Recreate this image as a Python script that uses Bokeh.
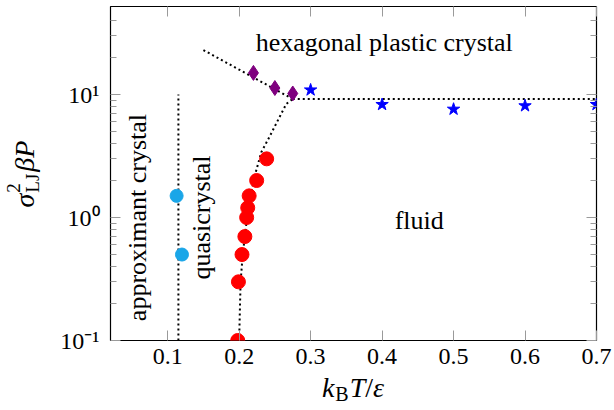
import math
from bokeh.plotting import figure
from bokeh.models import Range1d, FixedTicker, LinearAxis, LogAxis, Div
from bokeh.layouts import row, column
from bokeh.embed import file_html
from bokeh.resources import INLINE
from bokeh.core.properties import value

# ---------------- data ----------------
quasi_T = [0.198, 0.199, 0.204, 0.208, 0.2105, 0.212, 0.214, 0.2245, 0.2385]
quasi_P = [0.1, 0.3, 0.5, 0.7, 1.0, 1.2, 1.5, 2.0, 3.0]

approx_T = [0.1125, 0.120]
approx_P = [1.5, 0.5]

hex_T = [0.22, 0.25, 0.275]
hex_P = [15.0, 11.3, 10.2]

fluid_T = [0.3, 0.4, 0.5, 0.6, 0.7]
fluid_P = [10.9, 8.3, 7.6, 8.1, 8.3]

# dotted phase boundaries
qc_bound_T = [0.200, 0.202, 0.205, 0.208, 0.211, 0.216, 0.222, 0.231, 0.243, 0.255, 0.266, 0.275]
qc_bound_P = [0.1, 0.3, 0.5, 0.7, 1.0, 1.5, 2.2, 3.4, 4.6, 6.3, 8.4, 9.2]
hex_bound_T = [0.15, 0.275]
hex_bound_P = [23.0, 9.2]
melt_bound_T = [0.275, 0.7]
melt_bound_P = [9.2, 9.2]
approx_bound_T = [0.115, 0.115]
approx_bound_P = [0.1, 10.0]

x_ticks = [0.1, 0.2, 0.3, 0.4, 0.5, 0.6, 0.7]
x_tick_labels = ["0.1", "0.2", "0.3", "0.4", "0.5", "0.6", "0.7"]
y_ticks = [0.1, 1.0, 10.0]
y_tick_labels = ["10\u207b\u00b9", "10\u2070", "10\u00b9"]
y_minor = [0.2, 0.3, 0.4, 0.5, 0.6, 0.7, 0.8, 0.9,
           2, 3, 4, 5, 6, 7, 8, 9, 20, 30, 40]

region_labels = ["hexagonal plastic crystal", "fluid", "approximant crystal", "quasicrystal"]

X_MIN, X_MAX = 0.02, 0.7
Y_MIN, Y_MAX = 0.1, 52

FONT = "Liberation Serif"
TICK_COLOR = "#9a9a9a"

p = figure(frame_width=486, frame_height=334,
           x_range=Range1d(X_MIN, X_MAX), y_range=Range1d(Y_MIN, Y_MAX),
           y_axis_type="log", output_backend="svg", toolbar_location=None,
           min_border_left=70, min_border_right=16, min_border_top=6,
           min_border_bottom=40)
p.background_fill_color = "white"
p.border_fill_color = "white"
p.outline_line_color = "black"
p.outline_line_width = 1.2
p.xgrid.visible = False
p.ygrid.visible = False


def style_axis(ax, ticker, labels=None, show=True):
    ax.ticker = ticker
    ax.axis_line_color = None
    ax.major_tick_in = 10
    ax.major_tick_out = 0
    ax.minor_tick_in = 6
    ax.minor_tick_out = 0
    ax.major_tick_line_color = TICK_COLOR
    ax.minor_tick_line_color = TICK_COLOR
    ax.major_tick_line_width = 1
    ax.minor_tick_line_width = 1
    if show:
        ax.major_label_text_font = FONT
        ax.major_label_text_font_size = "24px"
        ax.major_label_text_color = "black"
        if labels is not None:
            ax.major_label_overrides = labels
    else:
        ax.major_label_text_font_size = "0px"
        ax.major_label_standoff = 0
        ax.major_label_overrides = {t: "" for t in ticker.ticks}


xt = FixedTicker(ticks=x_ticks, minor_ticks=[])
yt = FixedTicker(ticks=y_ticks, minor_ticks=y_minor)

style_axis(p.xaxis[0], xt, dict(zip(x_ticks, x_tick_labels)))
p.xaxis[0].major_label_standoff = 8
style_axis(p.yaxis[0], yt, dict(zip(y_ticks, y_tick_labels)))
p.yaxis[0].major_label_standoff = 11

top = LinearAxis()
style_axis(top, FixedTicker(ticks=x_ticks, minor_ticks=[]), show=False)
p.add_layout(top, "above")
right = LogAxis()
style_axis(right, FixedTicker(ticks=y_ticks, minor_ticks=y_minor), show=False)
p.add_layout(right, "right")

# dotted boundaries
DASH = "2 3"
for bx, by in [(qc_bound_T, qc_bound_P), (hex_bound_T, hex_bound_P),
               (melt_bound_T, melt_bound_P), (approx_bound_T, approx_bound_P)]:
    p.line(bx, by, line_color="black", line_width=2, line_dash=DASH)

# markers
p.scatter(quasi_T, quasi_P, marker="circle", size=14, fill_color="#ff0000", line_color="#ff0000")
p.scatter(approx_T, approx_P, marker="circle", size=13, fill_color="#1aa6e8", line_color="#1aa6e8")
p.scatter(hex_T, hex_P, marker="diamond", size=15, fill_color="#7f007f", line_color="#7f007f")
p.scatter(fluid_T, fluid_P, marker="star", size=13, fill_color="#0000ff", line_color="#0000ff")

# region labels
LBL = "26px"
p.text(x=[0.403], y=[26.3], text=[region_labels[0]], text_font=value(FONT),
       text_font_size=value(LBL), text_align="center", text_baseline="alphabetic",
       text_color="black")
p.text(x=[0.452], y=[0.94], text=[region_labels[1]], text_font=value(FONT),
       text_font_size=value(LBL), text_align="center", text_baseline="alphabetic",
       text_color="black")
p.text(x=[0.0571], y=[1.0], text=[region_labels[2]], text_font=value(FONT),
       text_font_size=value(LBL), text_align="center", text_baseline="alphabetic",
       angle=math.pi / 2, text_color="black")
p.text(x=[0.1471], y=[1.0], text=[region_labels[3]], text_font=value(FONT),
       text_font_size=value(LBL), text_align="center", text_baseline="alphabetic",
       angle=math.pi / 2, text_color="black")

# ---------------- axis titles as HTML text (sub/superscripts) ----------------
SERIF = "'Liberation Serif', 'Times New Roman', serif"

y_title_html = (
    f'<div style="position:relative; left:-36px; top:154px; width:120px; height:40px; '
    f'line-height:40px; text-align:center; transform:rotate(-90deg); white-space:nowrap; '
    f'font-family:{SERIF}; font-size:28px; color:black;">'
    '<i>\u03c3</i>'
    '<span style="display:inline-block; vertical-align:-5px; font-size:19px; line-height:19px; '
    'text-align:left; font-style:normal; margin-left:1px;">'
    '<span style="display:block;">2</span><span style="display:block;">LJ</span></span>'
    '<i style="margin-left:2px;">\u03b2P</i></div>'
)
x_title_html = (
    f'<div style="position:relative; left:213px; top:-6px; width:200px; height:28px; '
    f'line-height:28px; text-align:center; white-space:nowrap; '
    f'font-family:{SERIF}; font-size:28px; color:black;">'
    '<i>k</i><span style="font-size:20px; vertical-align:-4px; margin-left:1px;">B</span>'
    '<i style="margin-left:1px;">T</i>/<i>\u03b5</i></div>'
)

y_title = Div(text=y_title_html, width=40, height=408, margin=0)
x_title = Div(text=x_title_html, width=572, height=28, margin=0)

layout = row(y_title, column(p, x_title, spacing=0), spacing=0)

open("out.html", "w").write(file_html(layout, INLINE))
